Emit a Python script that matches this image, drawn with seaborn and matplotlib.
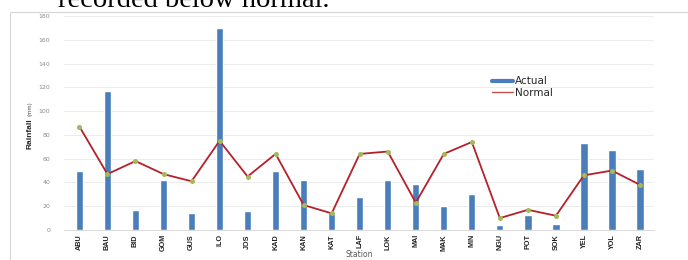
import matplotlib
matplotlib.use("Agg")
import matplotlib.pyplot as plt
import matplotlib.patches as mpatches
from matplotlib.lines import Line2D
import pandas as pd
import seaborn as sns

# values
stations = ["ABU", "BAU", "BID", "GOM", "GUS", "ILO", "JOS", "KAD", "KAN", "KAT", "LAF",
            "LOK", "MAI", "MAK", "MIN", "NGU", "POT", "SOK", "YEL", "YOL", "ZAR"]
actual = [50, 117, 17, 42, 14, 170, 16, 50, 42, 14, 28, 42, 39, 20, 30, 4, 13, 5, 73, 67, 51]
normal = [87, 47, 58, 47, 41, 75, 45, 64, 21, 14, 64, 66, 23, 64, 74, 10, 17, 12, 46, 50, 38]
yticks = [0, 20, 40, 60, 80, 100, 120, 140, 160, 180]

df = pd.DataFrame({"Station": stations, "Actual": actual, "Normal": normal})

sns.set_style("white")
plt.rcParams["font.family"] = ["DejaVu Sans"]
narrow = ["Liberation Sans", "DejaVu Sans"]

fig = plt.figure(figsize=(6.88, 2.60), dpi=100)
ax = fig.add_axes([64 / 688, 1 - 230 / 260, (654 - 64) / 688, (230 - 16) / 260])

# frame of the embedded chart
fig.patches.append(mpatches.Rectangle((10 / 688, -0.05), 1.0, 1 - 12 / 260 + 0.05,
                                      transform=fig.transFigure, fill=False,
                                      edgecolor="#d6d6d6", linewidth=0.8))

# caption text cut off at the top of the screenshot
fig.text(58 / 688, 1 - 7 / 260, "recorded below normal.", family="Liberation Serif",
         fontsize=20.5, va="baseline", ha="left", color="black")

sns.barplot(data=df, x="Station", y="Actual", order=stations, color="#4a7ebb",
            width=0.26, saturation=1, ax=ax, zorder=2)
sns.pointplot(data=df, x="Station", y="Normal", order=stations, color="#b5202a",
              markers="", linewidth=1.3, ax=ax, zorder=3)
sns.pointplot(data=df, x="Station", y="Normal", order=stations, color="#a6b85a",
              markers="o", markersize=1.6, linestyles="none", ax=ax, zorder=4)

ax.set_xlim(-0.55, 20.5)
ax.set_ylim(0, 180)
ax.set_yticks(yticks)
ax.set_yticklabels([str(v) for v in yticks], fontsize=4.5, color="#8c8c8c")
ax.tick_params(axis="y", length=0, pad=10)
ax.tick_params(axis="x", length=0, pad=3)
for lab in ax.get_xticklabels():
    lab.set_rotation(90)
    lab.set_fontsize(5.2)
    lab.set_fontweight("bold")
    lab.set_family(narrow)
    lab.set_color("#222222")
ax.yaxis.grid(True, color="#ececec", linewidth=0.7, zorder=0)
ax.set_axisbelow(True)
for s in ["top", "right", "left"]:
    ax.spines[s].set_visible(False)
ax.spines["bottom"].set_color("#d9d9d9")
ax.spines["bottom"].set_linewidth(0.7)

ax.set_xlabel("Station", fontsize=5.5, color="#555555", labelpad=-1)
ax.set_ylabel("")
fig.text(30 / 688, 1 - 134 / 260, "Rainfall", rotation=90, fontsize=6,
         fontweight="bold", family=narrow, ha="center", va="center")
fig.text(30 / 688, 1 - 109 / 260, "(mm)", rotation=90, fontsize=3.8,
         color="#444444", ha="center", va="center")

handles = [Line2D([0], [0], color="#4a7ebb", linewidth=3),
           Line2D([0], [0], color="#c0504d", linewidth=1)]
ax.legend(handles, ["Actual", "Normal"], loc="upper left",
          bbox_to_anchor=((488 - 64) / 590, 1 - (72 - 16) / 214), frameon=False,
          fontsize=7.5, handlelength=2.0, handletextpad=0.2, labelspacing=0.15,
          borderaxespad=0)

fig.savefig("out.png", dpi=100)
